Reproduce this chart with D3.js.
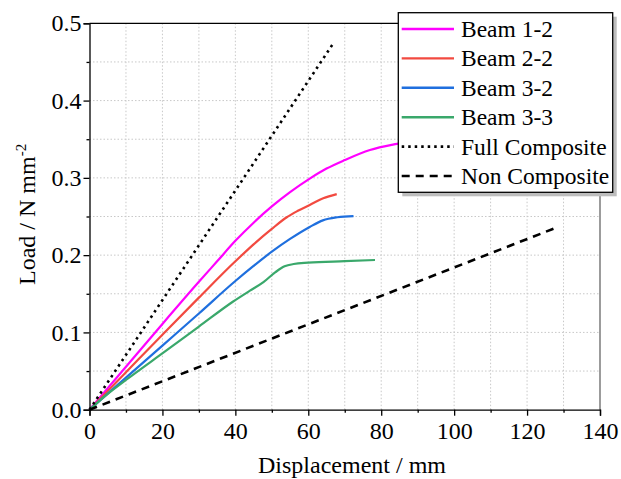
<!DOCTYPE html>
<html>
<head>
<meta charset="utf-8">
<script src="https://cdn.jsdelivr.net/npm/d3@7"></script>
<style>
  body { margin: 0; background: #fff; }
</style>
</head>
<body>
<script>
// DATA

const seriesNames = ["Beam 1-2", "Beam 2-2", "Beam 3-2", "Beam 3-3", "Full Composite", "Non Composite"];
const seriesColors = ["#ff00ff", "#f24a40", "#1f6fde", "#3aa86b", "#000", "#000"];

const beam12 = [[0, 0], [10, 0.0555], [20, 0.111], [30, 0.1655], [35, 0.192], [40, 0.2185], [45, 0.242], [50, 0.263], [55, 0.2815], [60.4, 0.299], [65, 0.312], [70, 0.323], [76.9, 0.336], [84.3, 0.344], [92, 0.350]];
const beam22 = [[0, 0], [10, 0.0485], [20, 0.097], [30, 0.145], [40, 0.192], [45, 0.214], [50, 0.234], [54.1, 0.249], [57, 0.257], [60.4, 0.265], [64.1, 0.2735], [67.8, 0.279]];
const beam32 = [[0, 0], [10, 0.0415], [20, 0.083], [30, 0.1245], [40, 0.1665], [45, 0.186], [50, 0.2045], [55, 0.221], [60.4, 0.2365], [64, 0.245], [68, 0.249], [72.4, 0.2506]];
const beam33 = [[0, 0], [5, 0.0205], [10, 0.0385], [21.2, 0.077], [30, 0.1075], [39.4, 0.140], [44, 0.154], [47.7, 0.165], [51, 0.178], [53.5, 0.1855], [56, 0.1885], [60, 0.1902], [70, 0.1922], [78.3, 0.1937]];
const fullComposite = [[0, 0], [66.8, 0.4736]];
const nonComposite = [[0, 0], [127.7, 0.235]];

const xTicks = [0, 20, 40, 60, 80, 100, 120, 140];
const xMinor = [10, 30, 50, 70, 90, 110, 130];
const yTicks = [0, 0.1, 0.2, 0.3, 0.4, 0.5];
const yMinor = [0.05, 0.15, 0.25, 0.35, 0.45];

// CHART

const W = 621, H = 479;
const padL = 89.5, padR = 600, padT = 23.3, padB = 409.7;
const serif = "Liberation Serif";

const svg = d3.select("body").append("svg")
  .attr("width", W)
  .attr("height", H);

const xScale = d3.scaleLinear().domain([0, 140]).range([padL, padR]);
const yScale = d3.scaleLinear().domain([0, 0.5]).range([padB, padT]);

// grid
const grid = svg.append("g")
  .attr("stroke", "#c8c8c8")
  .attr("stroke-width", 1)
  .attr("stroke-dasharray", "1.5,2");

grid.selectAll(".gx")
  .data(xTicks.concat(xMinor).filter(d => d > 0 && d < 140))
  .enter().append("line")
  .attr("x1", d => xScale(d)).attr("x2", d => xScale(d))
  .attr("y1", yScale(0)).attr("y2", yScale(0.5));

grid.selectAll(".gy")
  .data(yTicks.concat(yMinor).filter(d => d > 0 && d < 0.5))
  .enter().append("line")
  .attr("y1", d => yScale(d)).attr("y2", d => yScale(d))
  .attr("x1", xScale(0)).attr("x2", xScale(140));

// lines
const line = d3.line()
  .x(d => xScale(d[0]))
  .y(d => yScale(d[1]))
  .curve(d3.curveMonotoneX);

const allSeries = [beam12, beam22, beam32, beam33, fullComposite, nonComposite];
const dashes = [null, null, null, null, "2.5,4", "8,6"];

allSeries.forEach((s, i) => {
  svg.append("path")
    .attr("d", line(s))
    .attr("fill", "none")
    .attr("stroke", seriesColors[i])
    .attr("stroke-width", i < 4 ? 2.2 : 2.6)
    .attr("stroke-dasharray", dashes[i]);
});

// frame
svg.append("line")
  .attr("x1", xScale(0)).attr("x2", xScale(140))
  .attr("y1", yScale(0.5)).attr("y2", yScale(0.5))
  .attr("stroke", "#000").attr("stroke-width", 1.3);
svg.append("line")
  .attr("x1", xScale(140)).attr("x2", xScale(140))
  .attr("y1", yScale(0.5)).attr("y2", yScale(0))
  .attr("stroke", "#666").attr("stroke-width", 1.3);

// axes
const xAxis = d3.axisBottom(xScale).tickValues(xTicks).tickSize(6).tickPadding(6).tickFormat(d3.format("d"));
const yAxis = d3.axisLeft(yScale).tickValues(yTicks).tickSize(6).tickPadding(2).tickFormat(d3.format(".1f"));

const gx = svg.append("g")
  .attr("transform", `translate(0,${padB})`)
  .call(xAxis);
const gy = svg.append("g")
  .attr("transform", `translate(${padL},0)`)
  .call(yAxis);

[gx, gy].forEach(g => {
  g.select(".domain").attr("stroke", "#000").attr("stroke-width", 1.3);
  g.selectAll(".tick line").attr("stroke", "#000").attr("stroke-width", 1.3);
  g.selectAll(".tick text")
    .attr("fill", "#000")
    .style("font-family", serif)
    .style("font-size", "24px");
});

// minor ticks
svg.append("g")
  .attr("transform", `translate(0,${padB})`)
  .call(d3.axisBottom(xScale).tickValues(xMinor).tickSize(3).tickFormat(""))
  .call(g => g.select(".domain").remove())
  .call(g => g.selectAll("line").attr("stroke", "#000").attr("stroke-width", 1.3));
svg.append("g")
  .attr("transform", `translate(${padL},0)`)
  .call(d3.axisLeft(yScale).tickValues(yMinor).tickSize(3).tickFormat(""))
  .call(g => g.select(".domain").remove())
  .call(g => g.selectAll("line").attr("stroke", "#000").attr("stroke-width", 1.3));

// axis titles
svg.append("text")
  .text("Displacement / mm")
  .attr("x", 352)
  .attr("y", 473)
  .attr("text-anchor", "middle")
  .style("font-family", serif)
  .style("font-size", "24px");

const yTitle = svg.append("text")
  .attr("transform", "translate(35,285) rotate(-90)")
  .style("font-family", serif)
  .style("font-size", "24px");
yTitle.append("tspan").text("Load / N mm");
yTitle.append("tspan").text("-2").attr("dy", -9).style("font-size", "15px");

// legend
const lx = 398.3, ly = 12.7, lw = 214.4, lh = 179.6;
svg.append("rect")
  .attr("x", lx + 4).attr("y", ly + 4)
  .attr("width", lw).attr("height", lh)
  .attr("fill", "#bdbdbd");
svg.append("rect")
  .attr("x", lx).attr("y", ly)
  .attr("width", lw).attr("height", lh)
  .attr("fill", "#fff")
  .attr("stroke", "#000")
  .attr("stroke-width", 1.3);

const legend = svg.selectAll(".legend")
  .data(seriesNames)
  .enter().append("g")
  .attr("class", "legend")
  .attr("transform", (d, i) => `translate(${lx}, ${29 + i * 29.4})`);

legend.append("line")
  .attr("x1", 3.4).attr("x2", 55.7)
  .attr("y1", 0).attr("y2", 0)
  .attr("stroke", (d, i) => seriesColors[i])
  .attr("stroke-width", (d, i) => i < 4 ? 2.4 : 2.6)
  .attr("stroke-dasharray", (d, i) => dashes[i]);

legend.append("text")
  .text(d => d)
  .attr("x", 62.7)
  .attr("y", 8)
  .style("font-family", serif)
  .style("font-size", "23.5px");
</script>
</body>
</html>
